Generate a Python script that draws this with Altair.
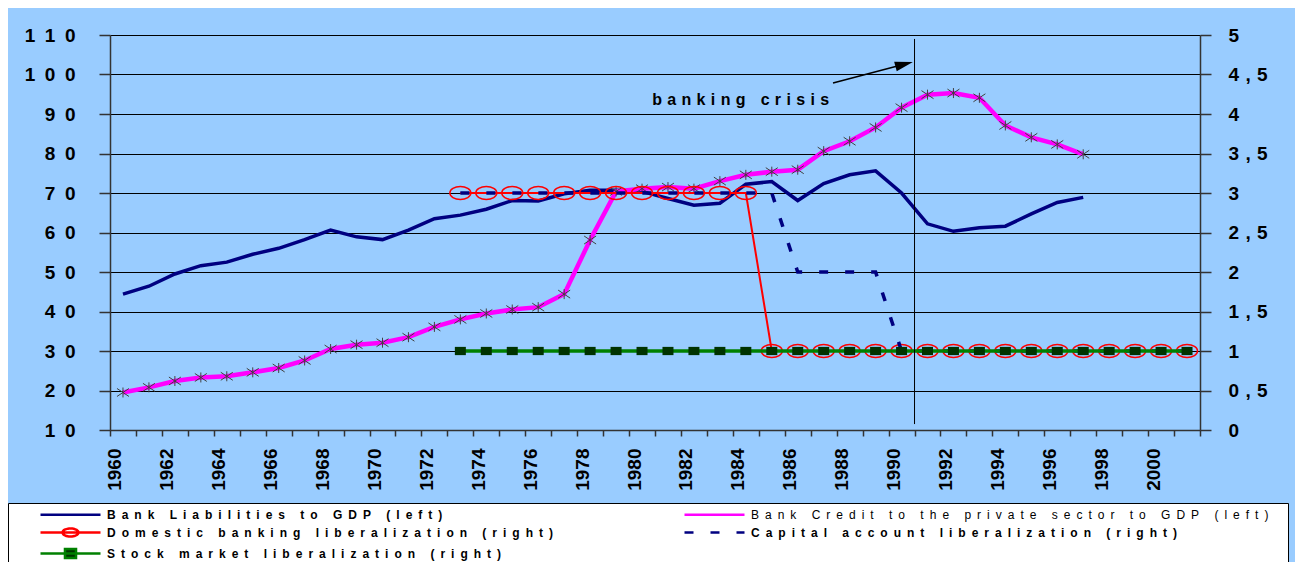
import altair as alt
import pandas as pd

FONT = "Liberation Sans"

# ---------------- data ----------------
years = list(range(1960, 2002))

liab_years = list(range(1960, 1998))
liab = [44.4, 46.4, 49.5, 51.6, 52.5, 54.5, 56.0, 58.2, 60.6, 58.9,
        58.2, 60.6, 63.5, 64.4, 65.9, 68.1, 68.0, 69.8, 70.7, 70.7,
        70.4, 68.6, 66.9, 67.4, 72.2, 72.9, 68.1, 72.4, 74.6, 75.6,
        70.0, 62.2, 60.3, 61.2, 61.6, 64.7, 67.6, 68.9]

credit_years = list(range(1960, 1998))
credit = [19.5, 20.8, 22.4, 23.3, 23.6, 24.6, 25.7, 27.6, 30.5, 31.6,
          32.1, 33.5, 36.1, 38.0, 39.5, 40.5, 41.1, 44.4, 58.1, 70.4,
          71.1, 71.5, 71.1, 73.0, 74.6, 75.4, 75.9, 80.6, 83.1, 86.6,
          91.6, 94.9, 95.3, 94.1, 87.1, 84.1, 82.3, 79.8]

lib_years = list(range(1973, 2002))
domestic = [3, 3, 3, 3, 3, 3, 3, 3, 3, 3, 3, 3, 1, 1, 1, 1, 1, 1, 1, 1,
            1, 1, 1, 1, 1, 1, 1, 1, 1]
capital = [3, 3, 3, 3, 3, 3, 3, 3, 3, 3, 3, 3, 3, 2, 2, 2, 2, 1, 1, 1,
           1, 1, 1, 1, 1, 1, 1, 1, 1]
stock = [1, 1, 1, 1, 1, 1, 1, 1, 1, 1, 1, 1, 1, 1, 1, 1, 1, 1, 1, 1,
         1, 1, 1, 1, 1, 1, 1, 1, 1]

series_names = ["Bank Liabilities to GDP (left)",
                "Bank Credit to the private sector to GDP (left)",
                "Domestic banking liberalization (right)",
                "Capital account liberalization (right)",
                "Stock market liberalization (right)"]

left_ticks = [10, 20, 30, 40, 50, 60, 70, 80, 90, 100, 110]
right_ticks = [0, 0.5, 1, 1.5, 2, 2.5, 3, 3.5, 4, 4.5, 5]

crisis_x = [1990.5]
crisis_y_top = [109.0]
crisis_y_bottom = [11.5]
arrow_x = [1987.36]
arrow_y = [97.85]
arrow_x2 = [1990.1]
arrow_y2 = [102.6]
head_angle = [75]
note_x = [1983.8]
note_y = [93.5]
note_text = ["banking crisis"]

# ---------------- styles ----------------
NAVY = "#000080"
MAGENTA = "#FF00FF"
RED = "#FF0000"
GREEN = "#008000"
DKGREEN = "#003300"
BG = "#99CCFF"

ASTER = "M-1.2,-0.8L1.2,0.8M-1.2,0.8L1.2,-0.8M0,-1V1"
ELLIPSE = "M-1,0A1,0.62,0,1,0,1,0A1,0.62,0,1,0,-1,0"
RECT = "M-1,-0.75H1V0.75H-1Z"
HEAD = "M0,-1L0.55,1L-0.55,1Z"

leg_shapes = [
    "M-1,0H9",
    "M-1,0H9",
    "M-1,0H9M2.67,0A1.33,0.67,0,1,0,5.33,0A1.33,0.67,0,1,0,2.67,0",
    "M-1,0H9",
    "M-1,0H9M3.08,-0.75H4.92V0.75H3.08Z",
]
leg_strokes = [NAVY, MAGENTA, RED, NAVY, GREEN]
leg_fills = ["transparent", "transparent", "transparent", "transparent", DKGREEN]
leg_dash = [[1, 0], [1, 0], [1, 0], [9, 17], [1, 0]]

ESP = "\u2002"
TPE = "\u2004"


def spaced(s, sep):
    return sep.join(list(s))


# ---------------- frames ----------------
liab_df = pd.DataFrame({"year": liab_years, "v": liab})
credit_df = pd.DataFrame({"year": credit_years, "v": credit})
dom_df = pd.DataFrame({"year": lib_years, "v": domestic})
cap_df = pd.DataFrame({"year": lib_years, "v": capital})
stock_df = pd.DataFrame({"year": lib_years, "v": stock})
leg_df = pd.DataFrame({"series": series_names})

x_scale = alt.Scale(type="band", domain=years, paddingInner=0, paddingOuter=0)
x_main = alt.X(
    "year:O", scale=x_scale,
    axis=alt.Axis(title=None, labelExpr="datum.value % 2 == 0 ? datum.label : ''",
                  labelAngle=270, labelFont=FONT, labelFontSize=19,
                  labelFontWeight="bold", labelColor="black", tickBand="extent",
                  tickSize=6, tickColor="#333333", tickWidth=1.5,
                  domainColor="#333333", domainWidth=1.5, labelPadding=12,
                  labelOffset=-8, grid=False, labelOverlap=False),
)
x_noaxis = alt.X("year:O", scale=x_scale, axis=None)

y_left = alt.Y(
    "v:Q", scale=alt.Scale(domain=[10, 110], nice=False, zero=False),
    axis=alt.Axis(title=None, values=left_ticks,
                  labelExpr="join(split(datum.label, ''), '" + ESP + "')",
                  labelFont=FONT, labelFontSize=19, labelFontWeight="bold",
                  labelColor="black", grid=True, gridColor="black", gridWidth=1,
                  tickSize=11, tickColor="#333333", tickWidth=1.5,
                  domainColor="#333333", domainWidth=1.5, labelPadding=24),
)
y_right = alt.Y(
    "v:Q", scale=alt.Scale(domain=[0, 5], nice=False, zero=False),
    axis=alt.Axis(title=None, orient="right", values=right_ticks,
                  labelExpr="join(split(replace(format(datum.value, '.1~f'), '.', ','), ''), '" + TPE + "')",
                  labelFont=FONT, labelFontSize=19, labelFontWeight="bold",
                  labelColor="black", grid=False,
                  tickSize=11, tickColor="#333333", tickWidth=1.5,
                  domainColor="#333333", domainWidth=1.5, labelPadding=17),
)

legend = alt.Legend(
    title="\u2014", titleOrient="right", titleColor="white", titleFontSize=12,
    titlePadding=4,
    orient="none", legendX=-102, legendY=468, columns=2,
    direction="horizontal",
    columnPadding=102, rowPadding=2, symbolSize=144, symbolOffset=27,
    labelOffset=53, symbolStrokeWidth=2.5,
    labelFont=FONT, labelFontSize=12,
    labelFontWeight=alt.ExprRef("datum.value == '" + series_names[1] + "' ? 'normal' : 'bold'"),
    labelColor="black", labelLimit=2000,
    labelExpr="join(split(datum.label, ''), '" + ESP + "')",
    fillColor="white", strokeColor="black", padding=4,
)

leg_layer = alt.Chart(leg_df).transform_filter("false").mark_point(opacity=1).encode(
    shape=alt.Shape("series:N", scale=alt.Scale(domain=series_names, range=leg_shapes), legend=legend),
    stroke=alt.Stroke("series:N", scale=alt.Scale(domain=series_names, range=leg_strokes), legend=legend),
    fill=alt.Fill("series:N", scale=alt.Scale(domain=series_names, range=leg_fills), legend=legend),
    strokeDash=alt.StrokeDash("series:N", scale=alt.Scale(domain=series_names, range=leg_dash), legend=legend),
)

L = alt.layer(
    alt.Chart(liab_df).mark_line(color=NAVY, strokeWidth=3.5).encode(x=x_main, y=y_left),
    alt.Chart(credit_df).mark_line(color=MAGENTA, strokeWidth=4.5).encode(x=x_main, y=y_left),
    alt.Chart(credit_df).mark_point(shape=ASTER, size=100, stroke="#404040", strokeWidth=1,
                                    filled=False, opacity=1).encode(x=x_main, y=y_left),
    leg_layer,
)

R = alt.layer(
    alt.Chart(dom_df).mark_line(color=RED, strokeWidth=2).encode(x=x_noaxis, y=y_right),
    alt.Chart(dom_df).mark_point(shape=ELLIPSE, size=441, stroke=RED, strokeWidth=1.5,
                                 filled=False, opacity=1).encode(x=x_noaxis, y=y_right),
    alt.Chart(cap_df).mark_line(color=NAVY, strokeWidth=3.5, strokeDash=[9, 17]).encode(x=x_noaxis, y=y_right),
    alt.Chart(stock_df).mark_line(color=GREEN, strokeWidth=3.5).encode(x=x_noaxis, y=y_right),
    alt.Chart(stock_df).mark_point(shape=RECT, size=121, fill=DKGREEN, filled=True, strokeWidth=0,
                                   opacity=1).encode(x=x_noaxis, y=y_right),
)

xq = alt.Scale(domain=[1959.5, 2001.5], nice=False, zero=False)
yq = alt.Scale(domain=[10, 110], nice=False, zero=False)

rule_df = pd.DataFrame({"x": crisis_x, "y": crisis_y_top, "y2": crisis_y_bottom})
arrow_df = pd.DataFrame({"x": arrow_x, "y": arrow_y, "x2": arrow_x2, "y2": arrow_y2,
                         "angle": head_angle})
note_df = pd.DataFrame({"x": note_x, "y": note_y,
                        "t": [spaced(t, TPE) for t in note_text]})

A = alt.layer(
    alt.Chart(rule_df).mark_rule(color="black", strokeWidth=1).encode(
        x=alt.X("x:Q", scale=xq, axis=None), y=alt.Y("y:Q", scale=yq, axis=None), y2="y2:Q"),
    alt.Chart(arrow_df).mark_rule(color="black", strokeWidth=1.5).encode(
        x=alt.X("x:Q", scale=xq, axis=None), y=alt.Y("y:Q", scale=yq, axis=None),
        x2="x2:Q", y2="y2:Q"),
    alt.Chart(arrow_df).mark_point(shape=HEAD, size=324, filled=True, fill="black",
                                   strokeWidth=0, opacity=1).encode(
        x=alt.X("x2:Q", scale=xq, axis=None), y=alt.Y("y2:Q", scale=yq, axis=None),
        angle=alt.Angle("angle:Q", scale=None)),
    alt.Chart(note_df).mark_text(font=FONT, fontSize=16, fontWeight="bold", color="black",
                                 baseline="middle", align="center").encode(
        x=alt.X("x:Q", scale=xq, axis=None), y=alt.Y("y:Q", scale=yq, axis=None), text="t:N"),
)

chart = alt.layer(L, R, A).resolve_scale(x="independent", y="independent").properties(
    width=1090, height=395,
    padding={"left": 102, "top": 27, "right": 95, "bottom": 140},
    autosize=alt.AutoSizeParams(type="none"),
    background=BG,
).configure_view(stroke=None)

chart.save("out.html", embed_options={"renderer": "svg", "actions": False})
